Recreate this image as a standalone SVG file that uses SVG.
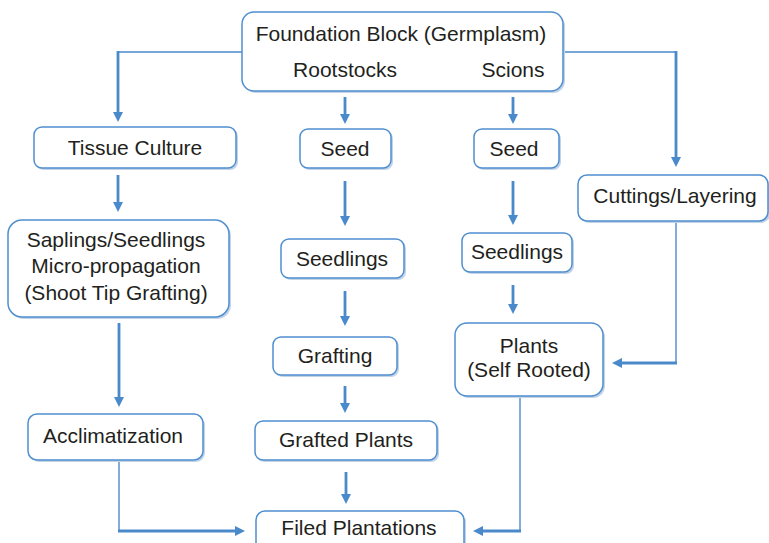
<svg xmlns="http://www.w3.org/2000/svg" width="769" height="543" viewBox="0 0 769 543">
<defs>
<style>
.sh{fill:#c3d3e8;stroke:none}
.bx{fill:#ffffff;stroke:#4f8fcf;stroke-width:1.5}
.t{font-family:"Liberation Sans",Arial,sans-serif;font-size:21px;fill:#231f20;text-anchor:middle}
.thin{fill:none;stroke:#4a8acb;stroke-width:1.4}
.thick{fill:none;stroke:#4a8acb;stroke-width:2.8}
</style>
<marker id="ah" markerWidth="10" markerHeight="10" refX="0" refY="5" orient="auto" markerUnits="userSpaceOnUse" viewBox="0 0 10 10">
<path d="M0,0 L10,5 L0,10 z" fill="#4a8acb"/>
</marker>
</defs>
<rect width="769" height="543" fill="#ffffff"/>

<g id="connectors">
<polyline class="thin" points="242,52 118,52"/>
<line class="thick" x1="118" y1="51" x2="118" y2="112" marker-end="url(#ah)"/>
<polyline class="thin" points="563,52 676,52"/>
<line class="thick" x1="676" y1="51" x2="676" y2="157" marker-end="url(#ah)"/>
<line class="thick" x1="345" y1="97" x2="345" y2="114" marker-end="url(#ah)"/>
<line class="thick" x1="513" y1="97" x2="513" y2="114" marker-end="url(#ah)"/>
<line class="thick" x1="118" y1="175" x2="118" y2="202" marker-end="url(#ah)"/>
<line class="thick" x1="345" y1="181" x2="345" y2="216" marker-end="url(#ah)"/>
<line class="thick" x1="513" y1="181" x2="513" y2="215" marker-end="url(#ah)"/>
<line class="thick" x1="119" y1="323" x2="119" y2="397" marker-end="url(#ah)"/>
<line class="thick" x1="345" y1="291" x2="345" y2="316" marker-end="url(#ah)"/>
<line class="thick" x1="513" y1="285" x2="513" y2="304" marker-end="url(#ah)"/>
<line class="thick" x1="345" y1="386" x2="345" y2="403" marker-end="url(#ah)"/>
<line class="thick" x1="346" y1="472" x2="346" y2="494" marker-end="url(#ah)"/>
<polyline class="thin" points="676,221 676,363"/>
<line class="thick" x1="677" y1="363" x2="622" y2="363" marker-end="url(#ah)"/>
<polyline class="thin" points="119,460 119,531"/>
<line class="thick" x1="118" y1="531" x2="235" y2="531" marker-end="url(#ah)"/>
<polyline class="thin" points="520,396 520,531"/>
<line class="thick" x1="521" y1="531" x2="483" y2="531" marker-end="url(#ah)"/>
</g>

<g id="foundation">
<rect class="sh" x="244" y="14" width="321" height="79" rx="12"/>
<rect class="bx" x="242" y="12" width="321" height="79" rx="12"/>
<text class="t" x="401" y="41">Foundation Block (Germplasm)</text>
<text class="t" x="345" y="77">Rootstocks</text>
<text class="t" x="513" y="77">Scions</text>
</g>

<g id="tissue-culture">
<rect class="sh" x="36" y="129" width="202" height="41" rx="8"/>
<rect class="bx" x="34" y="127" width="202" height="41" rx="8"/>
<text class="t" x="135" y="155">Tissue Culture</text>
</g>

<g id="seed-rootstock">
<rect class="sh" x="302" y="131" width="91" height="39" rx="8"/>
<rect class="bx" x="300" y="129" width="91" height="39" rx="8"/>
<text class="t" x="345" y="156">Seed</text>
</g>

<g id="seed-scion">
<rect class="sh" x="476" y="131" width="85" height="39" rx="8"/>
<rect class="bx" x="474" y="129" width="85" height="39" rx="8"/>
<text class="t" x="514" y="156">Seed</text>
</g>

<g id="cuttings">
<rect class="sh" x="580" y="177" width="190" height="46" rx="9"/>
<rect class="bx" x="578" y="175" width="190" height="46" rx="9"/>
<text class="t" x="675" y="203">Cuttings/Layering</text>
</g>

<g id="saplings">
<rect class="sh" x="10" y="222" width="221" height="97" rx="14"/>
<rect class="bx" x="8" y="220" width="221" height="97" rx="14"/>
<text class="t" x="116" y="247">Saplings/Seedlings</text>
<text class="t" x="116" y="273">Micro-propagation</text>
<text class="t" x="116" y="300">(Shoot Tip Grafting)</text>
</g>

<g id="seedlings-rootstock">
<rect class="sh" x="283" y="241" width="123" height="39" rx="8"/>
<rect class="bx" x="281" y="239" width="123" height="39" rx="8"/>
<text class="t" x="342" y="266">Seedlings</text>
</g>

<g id="seedlings-scion">
<rect class="sh" x="464" y="235" width="110" height="39" rx="8"/>
<rect class="bx" x="462" y="233" width="110" height="39" rx="8"/>
<text class="t" x="517" y="259">Seedlings</text>
</g>

<g id="grafting">
<rect class="sh" x="275" y="339" width="124" height="38" rx="8"/>
<rect class="bx" x="273" y="337" width="124" height="38" rx="8"/>
<text class="t" x="335" y="363">Grafting</text>
</g>

<g id="plants">
<rect class="sh" x="457" y="325" width="148" height="73" rx="12"/>
<rect class="bx" x="455" y="323" width="148" height="73" rx="12"/>
<text class="t" x="529" y="353">Plants</text>
<text class="t" x="529" y="377">(Self Rooted)</text>
</g>

<g id="acclimatization">
<rect class="sh" x="30" y="416" width="175" height="46" rx="9"/>
<rect class="bx" x="28" y="414" width="175" height="46" rx="9"/>
<text class="t" x="113" y="443">Acclimatization</text>
</g>

<g id="grafted-plants">
<rect class="sh" x="257" y="423" width="182" height="39" rx="8"/>
<rect class="bx" x="255" y="421" width="182" height="39" rx="8"/>
<text class="t" x="346" y="447">Grafted Plants</text>
</g>

<g id="filed-plantations">
<rect class="sh" x="258" y="513" width="208" height="40" rx="9"/>
<rect class="bx" x="256" y="511" width="208" height="40" rx="9"/>
<text class="t" x="359" y="535">Filed Plantations</text>
</g>
</svg>
